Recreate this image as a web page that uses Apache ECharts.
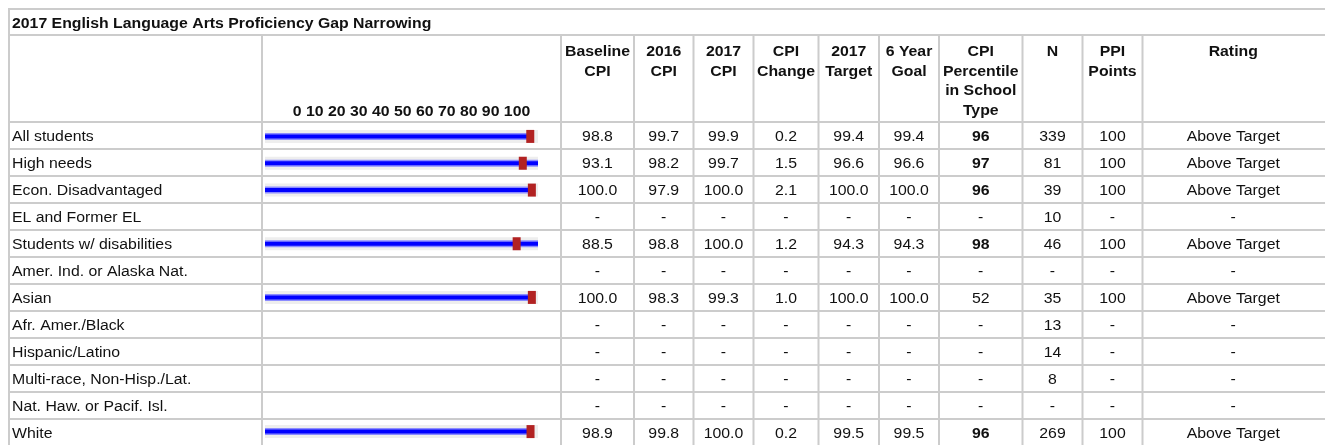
<!DOCTYPE html>
<html>
<head>
<meta charset="utf-8">
<script src="https://cdn.jsdelivr.net/npm/echarts@6/dist/echarts.min.js"></script>
<style>
html,body{margin:0;padding:0;background:#fff;}
#c{width:1325px;height:445px;}
</style>
</head>
<body>
<div id="c"></div>
<script>
// ---------- data ----------
const title = '2017 English Language Arts Proficiency Gap Narrowing';
const groups = ['All students','High needs','Econ. Disadvantaged','EL and Former EL','Students w/ disabilities','Amer. Ind. or Alaska Nat.','Asian','Afr. Amer./Black','Hispanic/Latino','Multi-race, Non-Hisp./Lat.','Nat. Haw. or Pacif. Isl.','White'];
const tickLabels = [0,10,20,30,40,50,60,70,80,90,100];
const headers = ['Baseline\nCPI','2016\nCPI','2017\nCPI','CPI\nChange','2017\nTarget','6 Year\nGoal','CPI\nPercentile\nin School\nType','N','PPI\nPoints','Rating'];
const baselineCPI = ['98.8','93.1','100.0','-','88.5','-','100.0','-','-','-','-','98.9'];
const cpi2016 = ['99.7','98.2','97.9','-','98.8','-','98.3','-','-','-','-','99.8'];
const cpi2017 = ['99.9','99.7','100.0','-','100.0','-','99.3','-','-','-','-','100.0'];
const cpiChange = ['0.2','1.5','2.1','-','1.2','-','1.0','-','-','-','-','0.2'];
const target2017 = ['99.4','96.6','100.0','-','94.3','-','100.0','-','-','-','-','99.5'];
const goal6yr = ['99.4','96.6','100.0','-','94.3','-','100.0','-','-','-','-','99.5'];
const percentile = ['96','97','96','-','98','-','52','-','-','-','-','96'];
const percentileBold = [true,true,true,false,true,false,false,false,false,false,false,true];
const nCount = ['339','81','39','10','46','-','35','13','14','8','-','269'];
const ppiPoints = ['100','100','100','-','100','-','100','-','-','-','-','100'];
const rating = ['Above Target','Above Target','Above Target','-','Above Target','-','Above Target','-','-','-','-','Above Target'];
// bullet chart values
const bulletRange = [102.3,102.3,102.3,null,102.3,null,102.3,null,null,null,null,102.3];
const bulletBar = [99.9,102.3,100.0,null,102.3,null,99.3,null,null,null,null,100.0];
const bulletMarker = [99.4,96.6,100.0,null,94.3,null,100.0,null,null,null,null,99.5];

// ---------- layout ----------
const FONT = 'Arial, "Liberation Sans", sans-serif';
const FS = 14, SX = 1.13;
const LINE = '#cccccc';
const left = 9, topY = 9, titleBottom = 35, headBottom = 122, rowH = 27;
const nRows = groups.length;
const bottomY = headBottom + rowH * nRows;
const colEdges = [262, 561, 634, 693.5, 753.5, 818.5, 879, 939, 1022.5, 1082.5, 1142.5, 1324];
const bulletLeft = 265, bulletWidth = 273;

const columns = [baselineCPI, cpi2016, cpi2017, cpiChange, target2017, goal6yr, percentile, nCount, ppiPoints, rating];

const g = [];
function line(x1,y1,x2,y2){
  g.push({type:'line', shape:{x1,y1,x2,y2}, style:{stroke:LINE, lineWidth:2}, silent:true, z:1});
}
function txt(text, x, y, opt){
  g.push({type:'text', x, y, scaleX:SX, silent:true, z:5,
    style:Object.assign({text, fontFamily:FONT, fontSize:FS, fontWeight:'normal', fill:'#111', verticalAlign:'middle', align:'center'}, opt||{})});
}
// borders
line(left-1, topY, 1325, topY);
line(left, topY, left, bottomY);
line(left, titleBottom, 1325, titleBottom);
line(left, headBottom, 1325, headBottom);
for (let i = 1; i <= nRows; i++) line(left, headBottom + rowH*i, 1325, headBottom + rowH*i);
for (let i = 0; i < colEdges.length - 1; i++) line(colEdges[i], titleBottom, colEdges[i], bottomY);

// title
txt(title, 12, 24, {fontWeight:'bold', align:'left'});
// tick header
txt(tickLabels.join(' '), (colEdges[0]+colEdges[1])/2, 112, {fontWeight:'bold'});
// headers
for (let c = 0; c < headers.length; c++) {
  const cx = (colEdges[c+1] + colEdges[c+2]) / 2;
  txt(headers[c], cx, 42, {fontWeight:'bold', verticalAlign:'top', lineHeight:19.8});
}
// row labels
for (let r = 0; r < nRows; r++) txt(groups[r], 12, headBottom + rowH*r + 15.5, {align:'left'});
// cells
for (let c = 0; c < columns.length; c++) {
  const cx = (colEdges[c+1] + colEdges[c+2]) / 2;
  for (let r = 0; r < nRows; r++) {
    const bold = (columns[c] === percentile) && percentileBold[r];
    txt(columns[c][r], cx, headBottom + rowH*r + 15.5, {fontWeight: bold ? 'bold' : 'normal'});
  }
}

const toData = a => a.map(v => v == null ? '-' : v);
const yCat = () => ({type:'category', data:groups, inverse:true, show:false,
    axisLine:{show:false}, axisTick:{show:false}, splitLine:{show:false}, axisLabel:{show:false}});

const chart = echarts.init(document.getElementById('c'), null, {renderer:'canvas'});
chart.setOption({
  animation:false,
  backgroundColor:'#fff',
  grid:{left:bulletLeft, width:bulletWidth, top:headBottom+1, height:rowH*nRows, containLabel:false},
  xAxis:{type:'value', min:0, max:102.3, show:false},
  yAxis:[yCat(), yCat(), yCat()],
  series:[
    {type:'bar', yAxisIndex:0, data:toData(bulletRange), barWidth:13, itemStyle:{color:'#eeeeee'}, silent:true, z:2},
    {type:'bar', yAxisIndex:1, data:toData(bulletBar), barWidth:7, itemStyle:{color:'#8c8cff'}, silent:true, z:3},
    {type:'bar', yAxisIndex:2, data:toData(bulletBar), barWidth:4, itemStyle:{color:'#0000ff'}, silent:true, z:3},
    {type:'scatter', yAxisIndex:0, data:toData(bulletMarker), symbol:'rect', symbolSize:[8,13], itemStyle:{color:'#b22222', opacity:1}, silent:true, z:4}
  ],
  graphic:g
});
</script>
</body>
</html>
